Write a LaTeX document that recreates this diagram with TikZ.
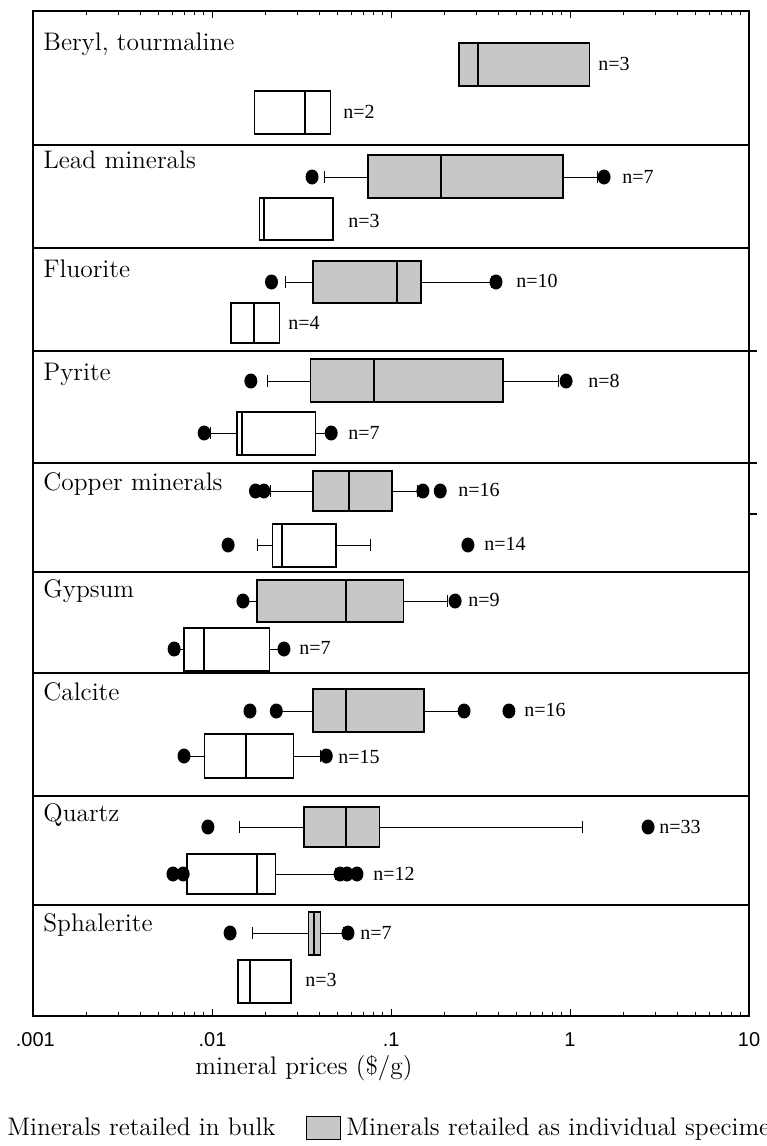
\documentclass[tikz,border=0pt]{standalone}
\usepackage{fontspec}
\newfontfamily\axisfont{Liberation Sans}
\newfontfamily\countfont{Liberation Serif}
\begin{document}
\begin{tikzpicture}[x=0.5pt, y=-0.5pt,
    declare function={lx(\x)=33+179*(log10(\x)+3);},
    spec/.style={draw, line width=0.65pt, fill=black!22},
    bulk/.style={draw, line width=0.65pt, fill=white},
    median/.style={line width=1pt},
    whisker/.style={line width=0.5pt},
    tick/.style={line width=0.5pt},
    sep/.style={line width=0.65pt},
    mlab/.style={anchor=base west, inner sep=0pt, font=\fontsize{12.7}{15}\selectfont},
    nlab/.style={anchor=west, inner sep=0pt, font=\countfont\fontsize{10}{12}\selectfont},
    tlab/.style={anchor=base, inner sep=0pt, font=\axisfont\fontsize{10}{12}\selectfont}]
  \useasboundingbox (0,0) rectangle (766,1146);
  \clip (0,0) rectangle (766,1146);
  \draw[line width=0.8pt] (33,11) rectangle (749,1016);
  \draw[line width=1pt] (33,1016) -- (749,1016);
  \foreach \y/\e in {145/749, 248/749, 351/757, 463/757, 572/749, 673/749, 796/749, 905/749}{
    \draw[sep] (33,\y) -- (\e,\y);
  }
  \draw[sep] (749,514) -- (757,514);
  \foreach \d in {0,...,3}{
    \foreach \k in {2,...,9}{
      \draw[tick] ({33+179*(\d+log10(\k))},11) -- ++(0,4) ({33+179*(\d+log10(\k))},1016) -- ++(0,-4);
    }
  }
  \foreach \d in {1,2,3}{
    \draw[tick] ({33+179*\d},11) -- ++(0,7) ({33+179*\d},1016) -- ++(0,-7);
  }
  \foreach \x/\t [count=\i] in {0.001/.001, 0.01/.01, 0.1/.1, 1/1, 10/10}{
    \node[tlab] (T\i) at ({lx(\x)},1046) {\t};
  }
  \foreach \y/\t [count=\i] in {50/{Beryl, tourmaline}, 168/Lead minerals, 277/Fluorite, 380/Pyrite,
      490/Copper minerals, 597/Gypsum, 700/Calcite, 821/Quartz, 931/Sphalerite}{
    \node[mlab] (M\i) at (43,\y) {\t};
  }
  \foreach \y/\e/\g in {177/0.0423/0.0734, 177/1.43/0.914, 282/0.0256/0.0362, 282/0.362/0.145,
      381/0.0203/0.0348, 381/0.868/0.422, 433/0.00975/0.0138, 433/0.0455/0.0376,
      491/0.0211/0.0362, 491/0.138/0.101, 545/0.0176/0.0216, 545/0.0763/0.0493,
      601/0.0152/0.0176, 601/0.208/0.117, 649/0.0065/0.00698, 649/0.024/0.0208,
      711/0.0228/0.0362, 711/0.253/0.151, 756/0.0072/0.00891, 756/0.0401/0.0284,
      827/0.0143/0.0318, 827/1.18/0.0857, 874/0.0487/0.0225,
      933/0.0165/0.0340, 933/0.054/0.0401}{
    \draw[whisker] ({lx(\e)},{\y-6}) -- ({lx(\e)},{\y+6}) ({lx(\e)},\y) -- ({lx(\g)},\y);
  }
  \foreach \s/\ya/\yb/\qa/\md/\qb in {spec/43/86/0.240/0.306/1.29, bulk/91/134/0.0169/0.0322/0.0456,
      spec/155/198/0.0734/0.190/0.914, bulk/198/240/0.0181/0.0193/0.0474,
      spec/261/303/0.0362/0.108/0.145, bulk/303/343/0.01277/0.0169/0.0237,
      spec/359/402/0.0348/0.0793/0.422, bulk/412/455/0.0138/0.0147/0.0376,
      spec/471/511/0.0362/0.0582/0.101, bulk/524/567/0.0216/0.0246/0.0493,
      spec/580/622/0.0176/0.0561/0.117, bulk/628/671/0.00698/0.00891/0.0208,
      spec/689/732/0.0362/0.0561/0.151, bulk/734/778/0.00891/0.0155/0.0284,
      spec/807/847/0.0318/0.0561/0.0857, bulk/854/894/0.00725/0.0176/0.0225,
      spec/912/955/0.0340/0.0366/0.0401, bulk/960/1003/0.01397/0.0159/0.0276}{
    \draw[\s] ({lx(\qa)},\ya) rectangle ({lx(\qb)},\yb);
    \draw[median] ({lx(\md)},\ya) -- ({lx(\md)},\yb);
  }
  \foreach \y/\v in {177/0.0357, 177/1.55, 282/0.0214, 282/0.386, 381/0.0161, 381/0.951,
      433/0.00891, 433/0.0462, 491/0.0172, 491/0.0193, 491/0.149, 491/0.188,
      545/0.01228, 545/0.269, 601/0.0149, 601/0.228, 649/0.00613, 649/0.0252,
      711/0.0159, 711/0.0228, 711/0.256, 711/0.456, 756/0.00698, 756/0.0433,
      827/0.00938, 827/2.73, 874/0.00605, 874/0.00689, 874/0.0519, 874/0.0568, 874/0.0629,
      933/0.0126, 933/0.0575}{
    \fill ({lx(\v)},\y) ellipse [x radius=3.25pt, y radius=3.75pt];
  }
  \foreach \x/\y/\t [count=\i] in {598/64/n=3, 343/112/n=2, 622/177/n=7, 348/221/n=3,
      516/281/n=10, 288/323/n=4, 588/381/n=8, 348/433/n=7, 458/490/n=16, 484/544/n=14,
      468/600/n=9, 299/648/n=7, 524/710/n=16, 338/757/n=15, 659/827/n=33, 373/874/n=12,
      360/933/n=7, 305/980/n=3}{
    \node[nlab] (n\i) at (\x,\y) {\t};
  }
  \node[mlab, anchor=base] (XT) at (304,1074) {mineral prices (\$/g)};
  \node[mlab] (LB) at (7,1135) {Minerals retailed in bulk};
  \draw[spec, line width=0.5pt] (306,1116) rectangle (340,1139);
  \node[mlab] (LS) at (346,1135) {Minerals retailed as individual specimens};
\end{tikzpicture}
\end{document}
